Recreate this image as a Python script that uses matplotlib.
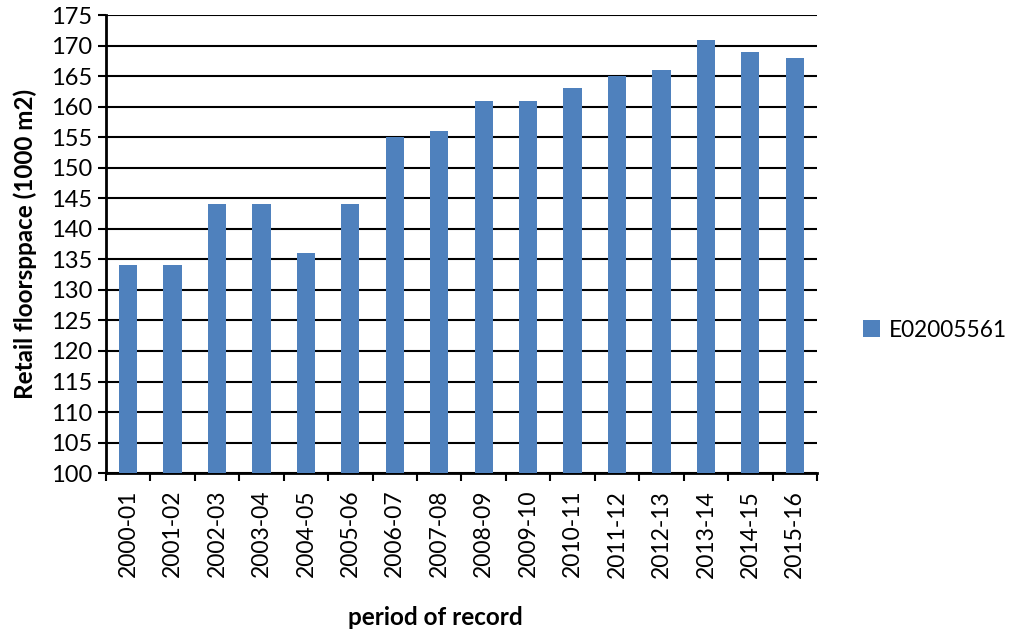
import matplotlib.pyplot as plt
import numpy as np

plt.rcParams['font.family'] = ['Lato', 'DejaVu Sans']

periods = ['2000-01', '2001-02', '2002-03', '2003-04', '2004-05', '2005-06',
           '2006-07', '2007-08', '2008-09', '2009-10', '2010-11', '2011-12',
           '2012-13', '2013-14', '2014-15', '2015-16']
floorspace = [134, 134, 144, 144, 136, 144, 155, 156, 161, 161, 163, 165,
              166, 171, 169, 168]
series_name = 'E02005561'

fig = plt.figure(figsize=(10.09, 6.3), dpi=100)
ax = fig.add_axes([0.105, 0.249, 0.7047, 0.727])

x = np.arange(len(periods))
ax.bar(x, floorspace, width=0.41, color='#4F81BD', label=series_name, zorder=3)

ax.set_ylim(100, 175)
ax.set_yticks(np.arange(100, 176, 5))
ax.set_xlim(-0.5, len(periods) - 0.5)
ax.grid(axis='y', color='black', linewidth=1.5, zorder=0)

# category labels in the middle, tick marks on the boundaries
ax.set_xticks(x)
ax.set_xticklabels(periods, rotation=90)
ax.set_xticks(np.arange(-0.5, len(periods), 1), minor=True)
ax.tick_params(axis='x', which='major', length=0, pad=12, labelsize=16.5)
ax.tick_params(axis='x', which='minor', length=6, width=1.5, direction='out')
ax.tick_params(axis='y', length=6, width=1.5, labelsize=17, pad=4)

for s in ['top', 'right']:
    ax.spines[s].set_visible(False)
ax.spines['left'].set_linewidth(2)
ax.spines['bottom'].set_linewidth(2)

ax.set_ylabel('Retail floorsppace (1000 m2)', fontsize=17.5, fontweight='bold', labelpad=10)
ax.set_xlabel('period of record', fontsize=17.5, fontweight='bold', va='center')
ax.xaxis.set_label_coords(0.464, -0.316)

ax.legend(loc='center left', bbox_to_anchor=(0.855, 0.476), bbox_transform=fig.transFigure,
          frameon=False, fontsize=16.3, handlelength=0.75, handleheight=0.75,
          handletextpad=0.4, borderaxespad=0, borderpad=0)

fig.savefig('out.png', dpi=100)
